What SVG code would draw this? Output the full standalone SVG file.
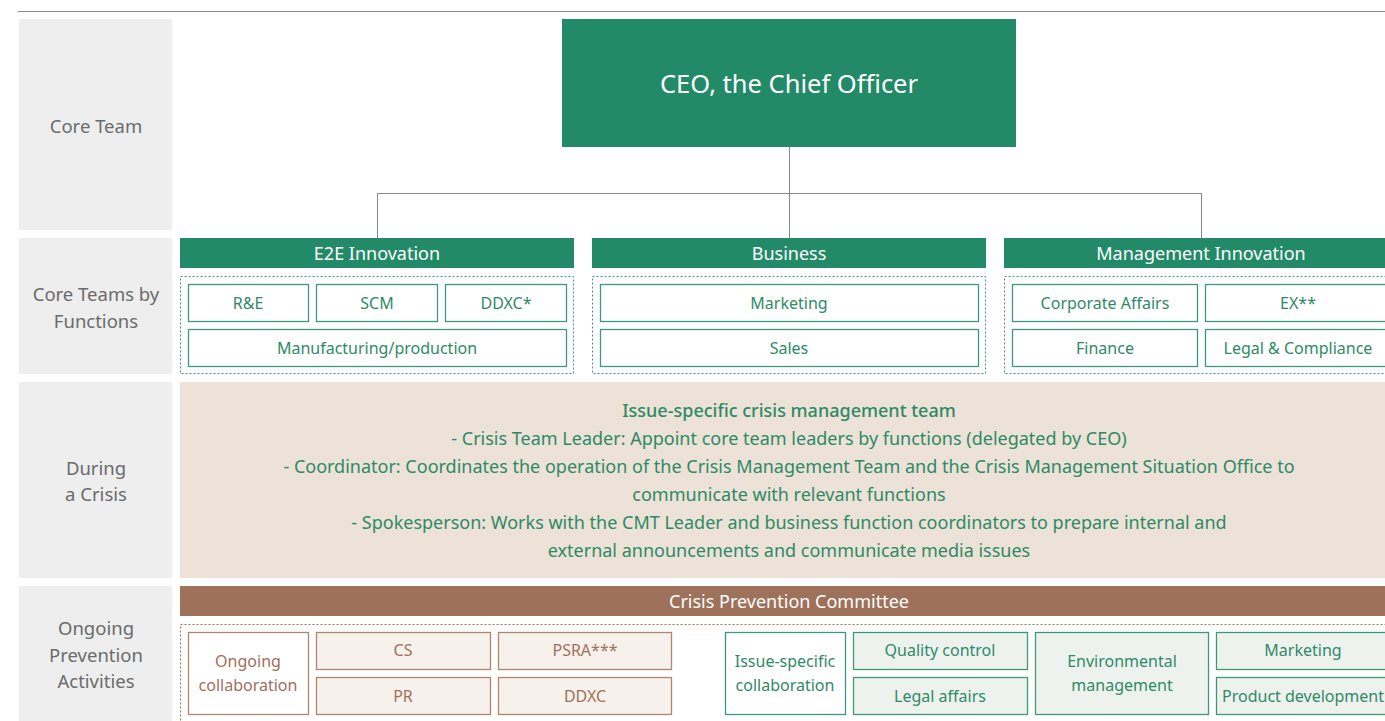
<svg xmlns="http://www.w3.org/2000/svg" width="1385" height="721" viewBox="0 0 1385 721">
<style>
text{font-family:"Noto Sans","Open Sans",sans-serif;text-anchor:middle;dominant-baseline:central}
.lbl{fill:#eeeeee}
.lt{fill:#6b6b6b;font-size:18.5px}
.hdr{fill:#228a67}
.ht{fill:#ffffff;font-size:18px}
.gd{fill:none;stroke:#3a9a78;stroke-width:1;stroke-dasharray:2,2}
.bd{fill:none;stroke:#a0705a;stroke-width:1;stroke-dasharray:2,2}
.gb{fill:#ffffff;stroke:#3d9a78;stroke-width:1.3}
.gf{fill:#eef2ef;stroke:#3d9a78;stroke-width:1.3}
.gt{fill:#2e8a66;font-size:16px}
.bb{fill:#ffffff;stroke:#b08570;stroke-width:1.3}
.bf{fill:#f7f1ec;stroke:#b08570;stroke-width:1.3}
.bt{fill:#a0705a;font-size:16px}
.ct{fill:#2e8a66;font-size:18px}
.conn{fill:none;stroke:#888888;stroke-width:1}
</style>
<line x1="18" y1="11.5" x2="1385" y2="11.5" stroke="#888" stroke-width="1"/>
<g id="labels">
<rect class="lbl" x="19" y="19" width="153" height="211"/>
<text class="lt" x="96" y="125">Core Team</text>
<rect class="lbl" x="19" y="238" width="153" height="136"/>
<text class="lt" x="96" y="293">Core Teams by</text>
<text class="lt" x="96" y="320">Functions</text>
<rect class="lbl" x="19" y="382" width="153" height="196"/>
<text class="lt" x="96" y="467">During</text>
<text class="lt" x="96" y="493">a Crisis</text>
<rect class="lbl" x="19" y="586" width="153" height="135"/>
<text class="lt" x="96" y="627">Ongoing</text>
<text class="lt" x="96" y="654">Prevention</text>
<text class="lt" x="96" y="680">Activities</text>
</g>
<g id="connectors">
<path class="conn" d="M789.5,147 V193.5 M377.5,238 V193.5 H1201.5 V238 M789.5,193.5 V238"/>
</g>
<g id="ceo">
<rect class="hdr" x="562" y="19" width="454" height="128"/>
<text x="789" y="83" fill="#fff" font-size="25.5">CEO, the Chief Officer</text>
</g>
<g id="e2e">
<rect class="hdr" x="180" y="238" width="394" height="30"/>
<text class="ht" x="377" y="253">E2E Innovation</text>
<rect class="gd" x="180.5" y="276.5" width="393" height="97"/>
<rect class="gb" x="188.5" y="284.5" width="120" height="37"/>
<text class="gt" x="248" y="303">R&amp;E</text>
<rect class="gb" x="316.5" y="284.5" width="121" height="37"/>
<text class="gt" x="377" y="303">SCM</text>
<rect class="gb" x="445.5" y="284.5" width="121" height="37"/>
<text class="gt" x="506" y="303">DDXC*</text>
<rect class="gb" x="188.5" y="329.5" width="378" height="37"/>
<text class="gt" x="377" y="348">Manufacturing/production</text>
</g>
<g id="business">
<rect class="hdr" x="592" y="238" width="394" height="30"/>
<text class="ht" x="789" y="253">Business</text>
<rect class="gd" x="592.5" y="276.5" width="393" height="97"/>
<rect class="gb" x="600.5" y="284.5" width="378" height="37"/>
<text class="gt" x="789" y="303">Marketing</text>
<rect class="gb" x="600.5" y="329.5" width="378" height="37"/>
<text class="gt" x="789" y="348">Sales</text>
</g>
<g id="mgmt">
<rect class="hdr" x="1004" y="238" width="394" height="30"/>
<text class="ht" x="1201" y="253">Management Innovation</text>
<rect class="gd" x="1004.5" y="276.5" width="393" height="97"/>
<rect class="gb" x="1012.5" y="284.5" width="185" height="37"/>
<text class="gt" x="1105" y="303">Corporate Affairs</text>
<rect class="gb" x="1205.5" y="284.5" width="185" height="37"/>
<text class="gt" x="1298" y="303">EX**</text>
<rect class="gb" x="1012.5" y="329.5" width="185" height="37"/>
<text class="gt" x="1105" y="348">Finance</text>
<rect class="gb" x="1205.5" y="329.5" width="185" height="37"/>
<text class="gt" x="1298" y="348">Legal &amp; Compliance</text>
</g>
<g id="crisis">
<rect x="180" y="382" width="1205" height="196" fill="#ede2d7"/>
<text class="ct" x="789" y="410" font-weight="500">Issue-specific crisis management team</text>
<text class="ct" x="789" y="438">- Crisis Team Leader: Appoint core team leaders by functions (delegated by CEO)</text>
<text class="ct" x="789" y="466">- Coordinator: Coordinates the operation of the Crisis Management Team and the Crisis Management Situation Office to</text>
<text class="ct" x="789" y="494">communicate with relevant functions</text>
<text class="ct" x="789" y="522">- Spokesperson: Works with the CMT Leader and business function coordinators to prepare internal and</text>
<text class="ct" x="789" y="550">external announcements and communicate media issues</text>
</g>
<g id="prevention">
<rect x="180" y="586" width="1205" height="30" fill="#9e725a"/>
<text class="ht" x="789" y="601">Crisis Prevention Committee</text>
<rect class="bd" x="180.5" y="624.5" width="1210" height="110"/>
</g>
<g id="ongoing">
<rect class="bb" x="188.5" y="632.5" width="120" height="82"/>
<text class="bt" x="248" y="661">Ongoing</text>
<text class="bt" x="248" y="685">collaboration</text>
<rect class="bf" x="316.5" y="632.5" width="174" height="37"/>
<text class="bt" x="403" y="650">CS</text>
<rect class="bf" x="498.5" y="632.5" width="173" height="37"/>
<text class="bt" x="585" y="650">PSRA***</text>
<rect class="bf" x="316.5" y="677.5" width="174" height="37"/>
<text class="bt" x="403" y="696">PR</text>
<rect class="bf" x="498.5" y="677.5" width="173" height="37"/>
<text class="bt" x="585" y="696">DDXC</text>
</g>
<g id="issue">
<rect class="gb" x="725.5" y="632.5" width="120" height="82"/>
<text class="gt" x="785" y="661">Issue-specific</text>
<text class="gt" x="785" y="685">collaboration</text>
<rect class="gf" x="853.5" y="632.5" width="174" height="37"/>
<text class="gt" x="940" y="650">Quality control</text>
<rect class="gf" x="853.5" y="677.5" width="174" height="37"/>
<text class="gt" x="940" y="696">Legal affairs</text>
<rect class="gf" x="1035.5" y="632.5" width="173" height="82"/>
<text class="gt" x="1122" y="661">Environmental</text>
<text class="gt" x="1122" y="685">management</text>
<rect class="gf" x="1216.5" y="632.5" width="174" height="37"/>
<text class="gt" x="1303" y="650">Marketing</text>
<rect class="gf" x="1216.5" y="677.5" width="174" height="37"/>
<text class="gt" x="1303" y="696">Product development</text>
</g>
</svg>
